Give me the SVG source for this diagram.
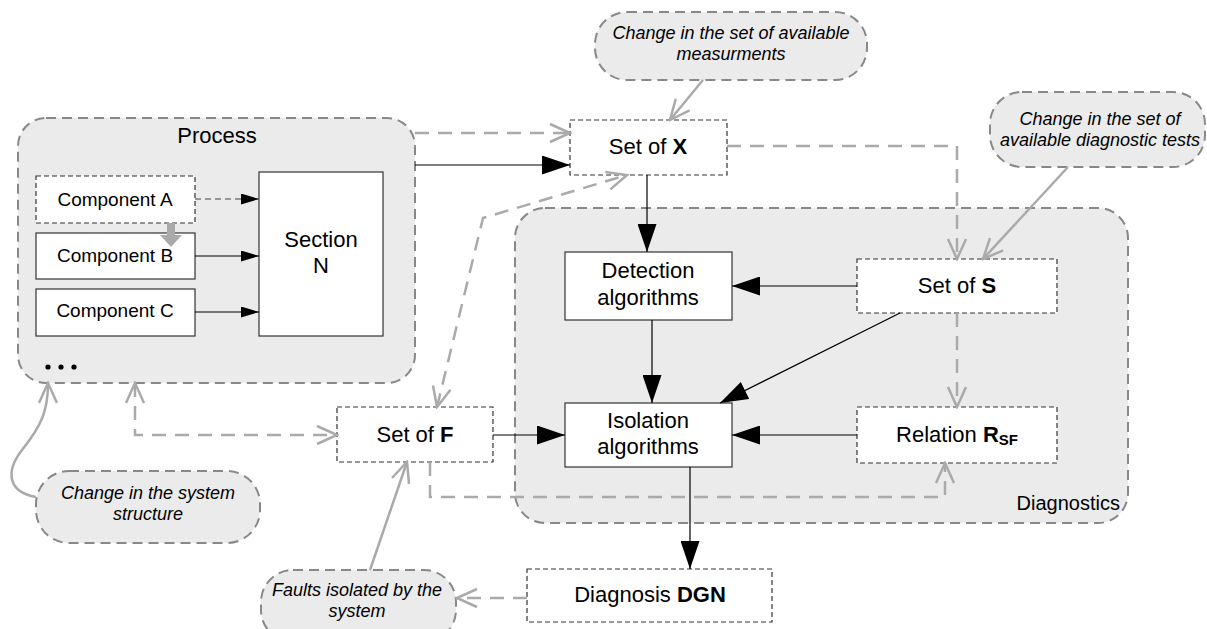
<svg xmlns="http://www.w3.org/2000/svg" width="1207" height="629" viewBox="0 0 1207 629">
<style>
text{font-family:"Liberation Sans",Arial,sans-serif;fill:#000}
.lbl{font-size:22px;text-anchor:middle}
.cmp{font-size:19px;text-anchor:middle}
.note{font-size:18px;font-style:italic;text-anchor:middle}
.cont{fill:#ebebeb;stroke:#888;stroke-width:2;stroke-dasharray:10 6}
.call{fill:#ebebeb;stroke:#888;stroke-width:2;stroke-dasharray:10 6}
.box{fill:#fff;stroke:#333;stroke-width:1.2}
.dbox{fill:#fff;stroke:#333;stroke-width:1.2;stroke-dasharray:5 3}
.blk{fill:none;stroke:#000;stroke-width:1.2}
.blkd{fill:none;stroke:#444;stroke-width:1.2;stroke-dasharray:6 4}
.gr{fill:none;stroke:#aaa;stroke-width:2.5}
.grd{fill:none;stroke:#aaa;stroke-width:2.5;stroke-dasharray:14 9}
</style>
<defs>
<marker id="big" viewBox="0 0 28 19" refX="28" refY="9.5" markerWidth="28" markerHeight="19" markerUnits="userSpaceOnUse" orient="auto"><path d="M0,0 L28,9.5 L0,19 z" fill="#000"/></marker>
<marker id="sm" viewBox="0 0 18 11" refX="18" refY="5.5" markerWidth="18" markerHeight="11" markerUnits="userSpaceOnUse" orient="auto"><path d="M0,0 L18,5.5 L0,11 z" fill="#000"/></marker>
<marker id="op" viewBox="-2 -2 24 22" refX="20" refY="9" markerWidth="24" markerHeight="22" markerUnits="userSpaceOnUse" orient="auto-start-reverse"><path d="M0,0 L20,9 L0,18" fill="none" stroke="#aaa" stroke-width="2.5" stroke-dasharray="none"/></marker>
</defs>

<g id="process">
<rect class="cont" x="18" y="118" width="397" height="265" rx="28"/>
<text class="lbl" x="217" y="143">Process</text>
<circle cx="48" cy="367" r="2.6"/><circle cx="61" cy="367" r="2.6"/><circle cx="74" cy="367" r="2.6"/>
</g>
<g id="diagnostics">
<rect class="cont" x="515" y="208" width="613" height="315" rx="30"/>
<text x="1120" y="510" style="font-size:20px;text-anchor:end">Diagnostics</text>
</g>

<g id="compA"><rect class="dbox" x="36" y="176" width="159" height="47"/><text class="cmp" x="115" y="206">Component A</text></g>
<g id="compB"><rect class="box" x="36" y="233" width="159" height="46"/><text class="cmp" x="115" y="262">Component B</text></g>
<g id="compC"><rect class="box" x="36" y="289" width="159" height="47"/><text class="cmp" x="115" y="317">Component C</text></g>
<g id="sectionN"><rect class="box" x="259" y="172" width="124" height="164"/><text class="lbl" x="321" y="247">Section</text><text class="lbl" x="321" y="273">N</text></g>

<g id="setX"><rect class="dbox" x="570" y="120" width="157" height="55"/><text class="lbl" x="648" y="154">Set of <tspan font-weight="bold">X</tspan></text></g>
<g id="setS"><rect class="dbox" x="857" y="259" width="200" height="54"/><text class="lbl" x="957" y="293">Set of <tspan font-weight="bold">S</tspan></text></g>
<g id="setF"><rect class="dbox" x="337" y="407" width="156" height="55"/><text class="lbl" x="415" y="442">Set of <tspan font-weight="bold">F</tspan></text></g>
<g id="detection"><rect class="box" x="565" y="252" width="167" height="68"/><text class="lbl" x="648" y="278">Detection</text><text class="lbl" x="648" y="305">algorithms</text></g>
<g id="isolation"><rect class="box" x="565" y="403" width="167" height="64"/><text class="lbl" x="648" y="428">Isolation</text><text class="lbl" x="648" y="454">algorithms</text></g>
<g id="relation"><rect class="dbox" x="857" y="407" width="200" height="56"/><text class="lbl" x="957" y="442">Relation <tspan font-weight="bold">R</tspan><tspan font-weight="bold" font-size="15" dy="3">SF</tspan></text></g>
<g id="dgn"><rect class="dbox" x="527" y="569" width="245" height="53"/><text class="lbl" x="650" y="602">Diagnosis <tspan font-weight="bold">DGN</tspan></text></g>

<g id="note-meas"><rect class="call" x="595" y="12" width="272" height="68" rx="32"/><text class="note" x="731" y="39">Change in the set of available</text><text class="note" x="731" y="60">measurments</text></g>
<g id="note-tests"><rect class="call" x="990" y="92" width="215" height="75" rx="32"/><text class="note" x="1100" y="125">Change in the set of</text><text class="note" x="1100" y="146">available diagnostic tests</text></g>
<g id="note-struct"><rect class="call" x="36" y="471" width="224" height="72" rx="33"/><text class="note" x="148" y="499">Change in the system</text><text class="note" x="148" y="520">structure</text></g>
<g id="note-faults"><rect class="call" x="261" y="570" width="195" height="72" rx="32"/><text class="note" x="357" y="596">Faults isolated by the</text><text class="note" x="357" y="617">system</text></g>

<g id="connectors">
<path class="blkd" d="M195,199 H259" marker-end="url(#sm)"/>
<path class="blk" d="M195,256 H259" marker-end="url(#sm)"/>
<path class="blk" d="M195,312 H259" marker-end="url(#sm)"/>
<polygon points="167,223 175,223 175,235 182,235 171,247 160,235 167,235" fill="#aaa"/>
<path class="blk" d="M415,165 H570" marker-end="url(#big)"/>
<path class="grd" d="M415,133 H570" marker-end="url(#op)"/>
<path class="gr" d="M703,80 L670,120" marker-end="url(#op)"/>
<path class="grd" d="M727,146 H957 V259" marker-end="url(#op)"/>
<path class="gr" d="M1068,167 L983,259" marker-end="url(#op)"/>
<path class="blk" d="M647,175 V252" marker-end="url(#big)"/>
<path class="grd" d="M437,407 L483,218 L627,175" marker-start="url(#op)" marker-end="url(#op)"/>
<path class="blk" d="M857,286 H732" marker-end="url(#big)"/>
<path class="blk" d="M652,320 V403" marker-end="url(#big)"/>
<path class="blk" d="M900,313 L720,403" marker-end="url(#big)"/>
<path class="blk" d="M493,435 H565" marker-end="url(#big)"/>
<path class="blk" d="M857,435 H732" marker-end="url(#big)"/>
<path class="grd" d="M957,313 V407" marker-end="url(#op)"/>
<path class="grd" d="M430,462 V497 H945 V463" marker-end="url(#op)"/>
<path class="blk" d="M690,467 V569" marker-end="url(#big)"/>
<path class="grd" d="M527,598 H457" marker-end="url(#op)"/>
<path class="gr" d="M370,570 L407,462" marker-end="url(#op)"/>
<path class="gr" d="M36,497 C8,492 5,472 22,450 C42,425 48,410 48,383" marker-end="url(#op)"/>
<path class="grd" d="M135,383 V435 H337" marker-start="url(#op)" marker-end="url(#op)"/>
</g>
</svg>
